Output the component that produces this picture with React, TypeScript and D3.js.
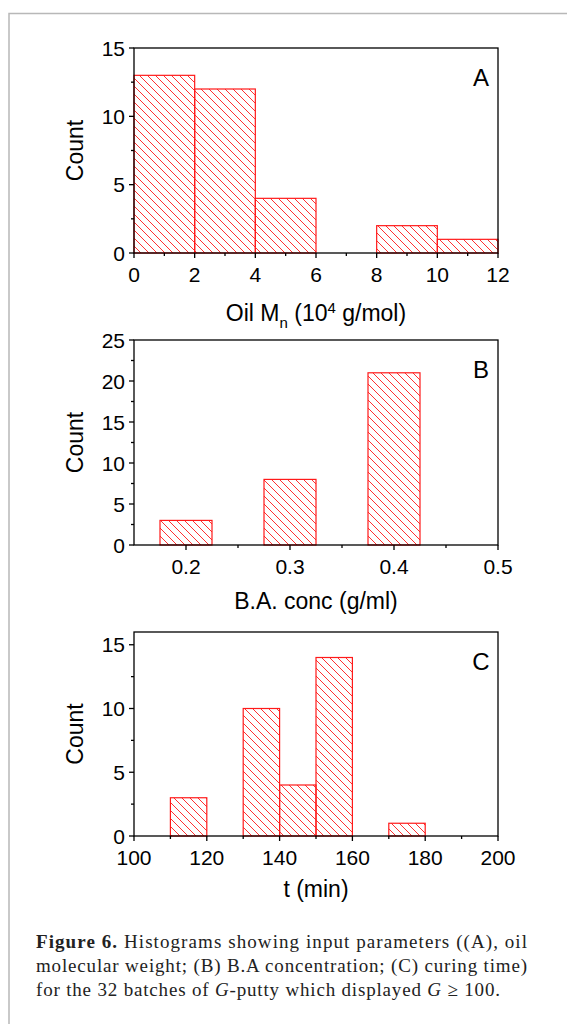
import React from "react";
import * as d3 from "d3";

// ---- Data ----
// Panel A: oil molecular weight bins (10^4 g/mol)
const binsA_x0 = [0, 2, 4, 8, 10];
const binsA_x1 = [2, 4, 6, 10, 12];
const countsA = [13, 12, 4, 2, 1];
const ticksAx = [0, 2, 4, 6, 8, 10, 12];
const ticksAy = [0, 5, 10, 15];

// Panel B: B.A. concentration (g/ml)
const binsB_x0 = [0.175, 0.275, 0.375];
const binsB_x1 = [0.225, 0.325, 0.425];
const countsB = [3, 8, 21];
const ticksBx = [0.2, 0.3, 0.4, 0.5];
const ticksBy = [0, 5, 10, 15, 20, 25];

// Panel C: curing time (min)
const binsC_x0 = [110, 130, 140, 150, 170];
const binsC_x1 = [120, 140, 150, 160, 180];
const countsC = [3, 10, 4, 14, 1];
const ticksCx = [100, 120, 140, 160, 180, 200];
const ticksCy = [0, 5, 10, 15];

const captionLines = [
  "Histograms showing input parameters ((A), oil",
  "molecular weight; (B) B.A concentration; (C) curing time)",
];

const RED = "#ff1a1a";
const SANS = "'Liberation Sans', Arial, sans-serif";
const SERIF = "'Liberation Serif', 'Times New Roman', serif";

type PanelProps = {
  top: number;
  bottom: number;
  xDomain: [number, number];
  yDomain: [number, number];
  x0: number[];
  x1: number[];
  counts: number[];
  xTicks: number[];
  yTicks: number[];
  xMinor: number[];
  yMinor: number[];
  xFmt: (v: number) => string;
  letter: string;
  xLabel: React.ReactNode;
  xLabelY: number;
  tickLabelDy: number;
};

const LEFT = 134;
const RIGHT = 498;

function Panel(p: PanelProps) {
  const x = d3.scaleLinear().domain(p.xDomain).range([LEFT, RIGHT]);
  const y = d3.scaleLinear().domain(p.yDomain).range([p.bottom, p.top]);
  return (
    <g>
      {p.counts.map((c, i) => (
        <rect
          key={i}
          x={x(p.x0[i])}
          y={y(c)}
          width={x(p.x1[i]) - x(p.x0[i])}
          height={y(0) - y(c)}
          fill="url(#hatch)"
          stroke={RED}
          strokeWidth={1.2}
        />
      ))}
      <rect x={LEFT} y={p.top} width={RIGHT - LEFT} height={p.bottom - p.top} fill="none" stroke="#000" strokeWidth={1.3} />
      {p.xTicks.map((t) => (
        <g key={"xt" + t}>
          <line x1={x(t)} x2={x(t)} y1={p.bottom} y2={p.bottom + 5} stroke="#000" strokeWidth={1.3} />
          <text x={x(t)} y={p.bottom + p.tickLabelDy} textAnchor="middle" fontFamily={SANS} fontSize={21}>
            {p.xFmt(t)}
          </text>
        </g>
      ))}
      {p.xMinor.map((t) => (
        <line key={"xm" + t} x1={x(t)} x2={x(t)} y1={p.bottom} y2={p.bottom + 3} stroke="#000" strokeWidth={1.3} />
      ))}
      {p.yTicks.map((t) => (
        <g key={"yt" + t}>
          <line x1={LEFT - 5} x2={LEFT} y1={y(t)} y2={y(t)} stroke="#000" strokeWidth={1.3} />
          <text x={LEFT - 9} y={y(t)} dy="0.36em" textAnchor="end" fontFamily={SANS} fontSize={21}>
            {t}
          </text>
        </g>
      ))}
      {p.yMinor.map((t) => (
        <line key={"ym" + t} x1={LEFT - 3} x2={LEFT} y1={y(t)} y2={y(t)} stroke="#000" strokeWidth={1.3} />
      ))}
      <text x={481} y={p.top + 38} textAnchor="middle" fontFamily={SANS} fontSize={24}>
        {p.letter}
      </text>
      <text
        transform={`translate(83,${(p.top + p.bottom) / 2}) rotate(-90)`}
        textAnchor="middle"
        fontFamily={SANS}
        fontSize={23}
      >
        Count
      </text>
      <text x={(LEFT + RIGHT) / 2} y={p.xLabelY} textAnchor="middle" fontFamily={SANS} fontSize={23}>
        {p.xLabel}
      </text>
    </g>
  );
}

export default function App() {
  return (
    <svg
      width={567}
      height={1024}
      style={{ position: "absolute", left: 0, top: 0, background: "#fff" }}
    >
      <defs>
        <pattern id="hatch" patternUnits="userSpaceOnUse" width={8} height={8}>
          <path d="M-1,-1 L9,9 M-9,-1 L1,9 M7,-1 L17,9" stroke={RED} strokeWidth={0.9} />
        </pattern>
      </defs>
      <rect x={0} y={0} width={567} height={1024} fill="#fff" />
      <path d="M9,1024 L9,13.5 L567,13.5" fill="none" stroke="#b8b8b8" strokeWidth={1.5} />

      <Panel
        top={48}
        bottom={253}
        xDomain={[0, 12]}
        yDomain={[0, 15]}
        x0={binsA_x0}
        x1={binsA_x1}
        counts={countsA}
        xTicks={ticksAx}
        yTicks={ticksAy}
        xMinor={[1, 3, 5, 7, 9, 11]}
        yMinor={[2.5, 7.5, 12.5]}
        xFmt={(v) => String(v)}
        letter="A"
        xLabelY={321}
        tickLabelDy={29}
        xLabel={
          <>
            Oil M
            <tspan fontSize={15} dy={7}>n</tspan>
            <tspan dy={-7}> (10</tspan>
            <tspan fontSize={15} dy={-8}>4</tspan>
            <tspan dy={8}> g/mol)</tspan>
          </>
        }
      />
      <Panel
        top={340}
        bottom={545}
        xDomain={[0.15, 0.5]}
        yDomain={[0, 25]}
        x0={binsB_x0}
        x1={binsB_x1}
        counts={countsB}
        xTicks={ticksBx}
        yTicks={ticksBy}
        xMinor={[0.25, 0.35, 0.45]}
        yMinor={[2.5, 7.5, 12.5, 17.5, 22.5]}
        xFmt={(v) => d3.format(".1f")(v)}
        letter="B"
        xLabelY={609}
        tickLabelDy={29}
        xLabel={"B.A. conc (g/ml)"}
      />
      <Panel
        top={632}
        bottom={836}
        xDomain={[100, 200]}
        yDomain={[0, 16]}
        x0={binsC_x0}
        x1={binsC_x1}
        counts={countsC}
        xTicks={ticksCx}
        yTicks={ticksCy}
        xMinor={[110, 130, 150, 170, 190]}
        yMinor={[2.5, 7.5, 12.5]}
        xFmt={(v) => String(v)}
        letter="C"
        xLabelY={897}
        tickLabelDy={29}
        xLabel={"t (min)"}
      />

      <g fontFamily={SERIF} fontSize={19} fill="#222">
        <text x={36} y={948} textLength={491} lengthAdjust="spacing">
          <tspan fontWeight="bold">Figure 6.</tspan>
          <tspan>{"  " + captionLines[0]}</tspan>
        </text>
        <text x={36} y={972} textLength={491} lengthAdjust="spacing">
          {captionLines[1]}
        </text>
        <text x={36} y={996} textLength={464} lengthAdjust="spacing">
          for the 32 batches of <tspan fontStyle="italic">G</tspan>-putty which displayed{" "}
          <tspan fontStyle="italic">G</tspan> ≥ 100.
        </text>
      </g>
    </svg>
  );
}
